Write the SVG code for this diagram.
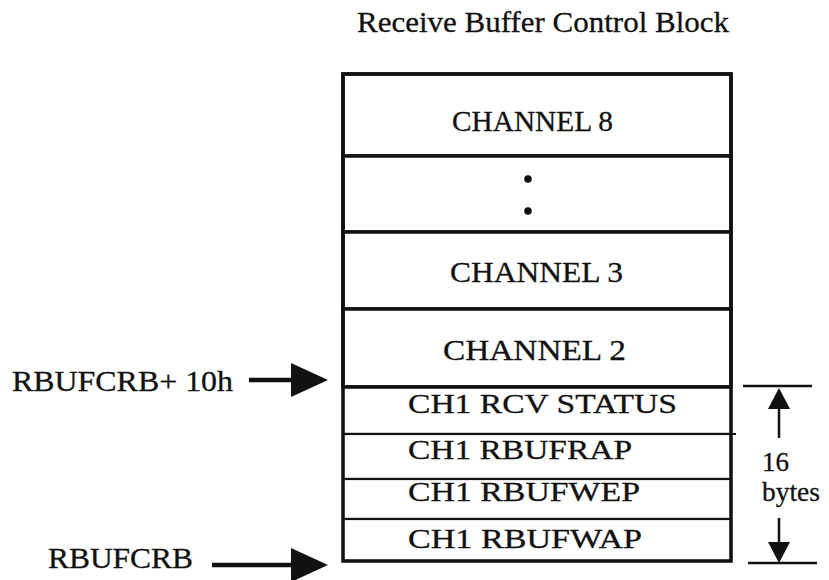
<svg xmlns="http://www.w3.org/2000/svg" width="829" height="580" viewBox="0 0 829 580">
<style>
text{font-family:"Liberation Serif","Times New Roman",serif;fill:#111;stroke:#111;stroke-width:0.3;}
.t30{font-size:30px;}
.t29{font-size:29px;}
.t27{font-size:27px;}
.row{fill:#fff;stroke:#111;}
.thick{stroke-width:3.5;}
.thin{stroke-width:2.2;}
.ptr{stroke:#111;stroke-width:4.5;fill:none;}
.dim{stroke:#111;stroke-width:2.5;fill:none;}
</style>
<defs>
<marker id="bighead" markerUnits="userSpaceOnUse" viewBox="0 0 37 34" markerWidth="37" markerHeight="34" refX="1" refY="17" orient="auto">
<path d="M0,0 L37,17 L0,34 Z" fill="#111"/>
</marker>
<marker id="dimhead" markerUnits="userSpaceOnUse" viewBox="0 0 21 22" markerWidth="21" markerHeight="22" refX="0" refY="11" orient="auto">
<path d="M0,0 L21,11 L0,22 Z" fill="#111"/>
</marker>
</defs>
<rect width="829" height="580" fill="#fff"/>
<text id="title" class="t30" x="357" y="32" textLength="372" lengthAdjust="spacingAndGlyphs">Receive Buffer Control Block</text>

<g id="channel8">
<rect class="row thick" x="343" y="74" width="388" height="82"/>
<text class="t30" x="452" y="131" textLength="161" lengthAdjust="spacingAndGlyphs">CHANNEL 8</text>
</g>
<g id="ellipsis">
<rect class="row thick" x="343" y="156" width="388" height="76"/>
<circle cx="528" cy="179" r="3.8" fill="#111"/>
<circle cx="528" cy="211" r="3.8" fill="#111"/>
</g>
<g id="channel3">
<rect class="row thick" x="343" y="232" width="388" height="77"/>
<text class="t30" x="450" y="282" textLength="173" lengthAdjust="spacingAndGlyphs">CHANNEL 3</text>
</g>
<g id="channel2">
<rect class="row thick" x="343" y="309" width="388" height="78"/>
<text class="t30" x="443" y="360" textLength="183" lengthAdjust="spacingAndGlyphs">CHANNEL 2</text>
</g>
<g id="ch1-status">
<rect class="row thin" x="343" y="387" width="388" height="47"/>
<text class="t27" x="408" y="413" textLength="269" lengthAdjust="spacingAndGlyphs">CH1 RCV STATUS</text>
</g>
<g id="ch1-rbufrap">
<rect class="row thin" x="343" y="434" width="388" height="45"/>
<text class="t27" x="408" y="459" textLength="224" lengthAdjust="spacingAndGlyphs">CH1 RBUFRAP</text>
</g>
<g id="ch1-rbufwep">
<rect class="row thin" x="343" y="479" width="388" height="40"/>
<text class="t27" x="408" y="501" textLength="232" lengthAdjust="spacingAndGlyphs">CH1 RBUFWEP</text>
</g>
<g id="ch1-rbufwap">
<rect class="row thin" x="343" y="519" width="388" height="42"/>
<text class="t27" x="408" y="548" textLength="234" lengthAdjust="spacingAndGlyphs">CH1 RBUFWAP</text>
</g>
<g id="frame">
<rect x="343" y="74" width="388" height="487" fill="none" stroke="#111" stroke-width="3.5"/>
<line x1="343" y1="387" x2="731" y2="387" stroke="#111" stroke-width="3.5"/>
<line x1="731" y1="434" x2="736" y2="434" stroke="#111" stroke-width="2"/>
</g>

<g id="label-rbufcrb10">
<text class="t29" x="12" y="391" textLength="221" lengthAdjust="spacingAndGlyphs">RBUFCRB+ 10h</text>
</g>
<g id="label-rbufcrb">
<text class="t29" x="48" y="568" textLength="145" lengthAdjust="spacingAndGlyphs">RBUFCRB</text>
</g>
<g id="label-16bytes">
<text class="t27" x="762" y="471">16</text>
<text class="t27" x="762" y="501" textLength="58" lengthAdjust="spacingAndGlyphs">bytes</text>
</g>

<g id="connectors">
<line class="ptr" x1="249" y1="380" x2="292" y2="380" marker-end="url(#bighead)"/>
<line class="ptr" x1="212" y1="565" x2="292" y2="565" stroke-width="3.5" marker-end="url(#bighead)"/>
<line class="dim" x1="743" y1="386" x2="812" y2="386"/>
<line class="dim" x1="748" y1="563" x2="817" y2="563"/>
<line class="dim" x1="779" y1="438" x2="779" y2="409" marker-end="url(#dimhead)"/>
<line class="dim" x1="779" y1="518" x2="779" y2="542" marker-end="url(#dimhead)"/>
</g>
</svg>
